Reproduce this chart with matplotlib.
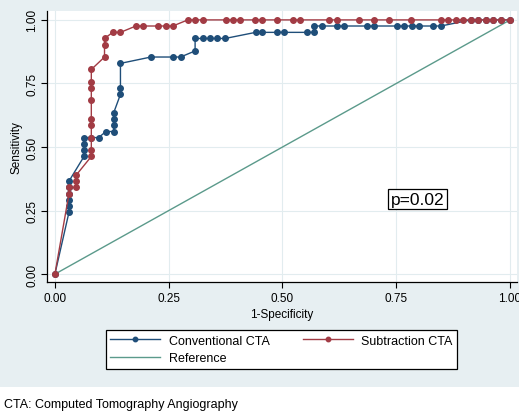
import matplotlib.pyplot as plt
from matplotlib.patches import Rectangle

plt.rcParams['font.family'] = ['Liberation Sans', 'DejaVu Sans']

# Conventional CTA ROC points
conv_x = [0, 0.031, 0.031, 0.031, 0.031, 0.031, 0.031,
          0.064, 0.064, 0.064, 0.064, 0.080, 0.096, 0.112,
          0.129, 0.129, 0.129, 0.129, 0.144, 0.144, 0.144,
          0.211, 0.259, 0.276, 0.308, 0.308, 0.325, 0.341, 0.357, 0.374,
          0.441, 0.455, 0.489, 0.504, 0.553, 0.569,
          0.569, 0.586, 0.619, 0.636, 0.685, 0.702, 0.751, 0.767, 0.784, 0.800, 0.831, 0.848,
          0.914, 0.930, 0.947, 0.963, 0.980, 1.0]
conv_y = [0, 0.244, 0.268, 0.293, 0.317, 0.341, 0.366,
          0.463, 0.488, 0.512, 0.537, 0.537, 0.537, 0.561,
          0.561, 0.585, 0.610, 0.634, 0.707, 0.732, 0.829,
          0.854, 0.854, 0.854, 0.878, 0.927, 0.927, 0.927, 0.927, 0.927,
          0.951, 0.951, 0.951, 0.951, 0.951, 0.951,
          0.976, 0.976, 0.976, 0.976, 0.976, 0.976, 0.976, 0.976, 0.976, 0.976, 0.976, 0.976,
          1.0, 1.0, 1.0, 1.0, 1.0, 1.0]

# Subtraction CTA ROC points
sub_x = [0, 0.031, 0.031, 0.047, 0.047, 0.047,
         0.080, 0.080, 0.080, 0.080, 0.080, 0.080, 0.080, 0.080, 0.080,
         0.109, 0.109, 0.109, 0.127, 0.144,
         0.178, 0.194, 0.227, 0.243, 0.259,
         0.292, 0.308, 0.325, 0.375, 0.391, 0.407, 0.440, 0.455, 0.489, 0.522, 0.538,
         0.603, 0.619, 0.669, 0.702, 0.734, 0.782, 0.848, 0.864, 0.881, 0.897, 0.914,
         0.930, 0.947, 0.963, 0.980, 1.0]
sub_y = [0, 0.317, 0.341, 0.341, 0.366, 0.390,
         0.463, 0.488, 0.537, 0.585, 0.610, 0.683, 0.732, 0.756, 0.805,
         0.854, 0.902, 0.927, 0.951, 0.951,
         0.976, 0.976, 0.976, 0.976, 0.976,
         1.0, 1.0, 1.0, 1.0, 1.0, 1.0, 1.0, 1.0, 1.0, 1.0, 1.0,
         1.0, 1.0, 1.0, 1.0, 1.0, 1.0, 1.0, 1.0, 1.0, 1.0, 1.0,
         1.0, 1.0, 1.0, 1.0, 1.0]

ref_x = [0, 1]
ref_y = [0, 1]
ticks = [0, 0.25, 0.5, 0.75, 1.0]
tick_labels = ['0.00', '0.25', '0.50', '0.75', '1.00']

fig = plt.figure(figsize=(5.19, 4.14), dpi=100, facecolor='white')
fig.patches.append(Rectangle((0, 0.063), 1, 0.937, transform=fig.transFigure,
                             facecolor='#e7eff2', edgecolor='none', zorder=-10))

ax = fig.add_axes([0.090, 0.317, 0.906, 0.654])
ax.set_facecolor('white')

blue = '#1f4e79'
red = '#a23b44'
green = '#5b9a8b'

l1, = ax.plot(conv_x, conv_y, '-o', color=blue, lw=1.0, ms=4, label='Conventional CTA', zorder=3)
l2, = ax.plot(sub_x, sub_y, '-o', color=red, lw=1.0, ms=4, label='Subtraction CTA', zorder=4)
l3, = ax.plot(ref_x, ref_y, '-', color=green, lw=1.0, label='Reference', zorder=2)

ax.set_xlim(-0.018, 1.015)
ax.set_ylim(-0.030, 1.035)
ax.set_xticks(ticks)
ax.set_xticklabels(tick_labels, fontsize=8.5)
ax.set_yticks(ticks)
ax.set_yticklabels(tick_labels, fontsize=8.5, rotation=90, va='center')
ax.grid(True, color='#e2ecef', lw=0.8)
ax.set_axisbelow(True)
for s in ['top', 'right']:
    ax.spines[s].set_visible(False)
for s in ['left', 'bottom']:
    ax.spines[s].set_linewidth(0.9)
ax.tick_params(length=4, width=0.8)
ax.tick_params(axis='x', pad=3.5)
ax.tick_params(axis='y', pad=2)
ax.set_xlabel('1-Specificity', fontsize=8.5, labelpad=2.5)
ax.set_ylabel('Sensitivity', fontsize=8.5, labelpad=3)

ax.text(0.797, 0.295, 'p=0.02', fontsize=12.5, ha='center', va='center',
        bbox=dict(boxstyle='square,pad=0.15', facecolor='white', edgecolor='black', lw=0.9))

# column-wise fill: col 1 = Conventional, Reference; col 2 = Subtraction
leg = fig.legend(handles=[l1, l3, l2], loc='center', ncol=2,
                 bbox_to_anchor=(0.5425, 0.153), fontsize=9,
                 fancybox=False, edgecolor='black', framealpha=1,
                 handlelength=4.0, handletextpad=0.7, columnspacing=2.6,
                 borderpad=0.35, labelspacing=0.45, markerscale=0.8)
leg.get_frame().set_linewidth(0.9)

fig.text(0.008, 0.022, 'CTA: Computed Tomography Angiography', fontsize=9, va='center', ha='left')

fig.savefig('out.png', dpi=100)
